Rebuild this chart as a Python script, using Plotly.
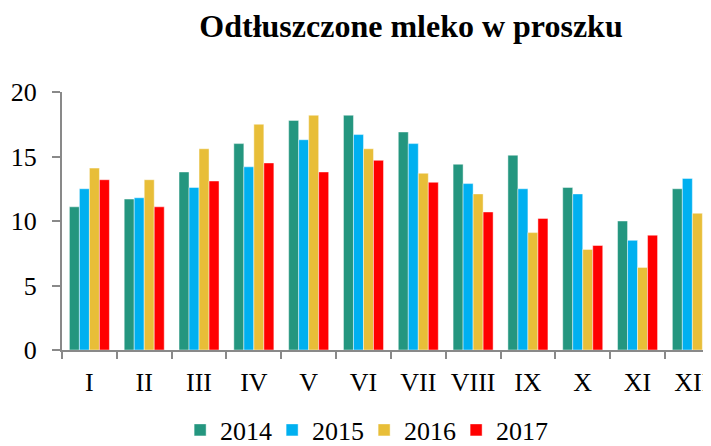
import plotly.graph_objects as go

months = ["I", "II", "III", "IV", "V", "VI", "VII", "VIII", "IX", "X", "XI", "XII"]
years = ["2014", "2015", "2016", "2017"]
v2014 = [11.1, 11.7, 13.8, 16.0, 17.8, 18.2, 16.9, 14.4, 15.1, 12.6, 10.0, 12.5]
v2015 = [12.5, 11.8, 12.6, 14.2, 16.3, 16.7, 16.0, 12.9, 12.5, 12.1, 8.5, 13.3]
v2016 = [14.1, 13.2, 15.6, 17.5, 18.2, 15.6, 13.7, 12.1, 9.1, 7.8, 6.4, 10.6]
v2017 = [13.2, 11.1, 13.1, 14.5, 13.8, 14.7, 13.0, 10.7, 10.2, 8.1, 8.9, None]
colors = ["#24967F", "#00B0F0", "#E8BE38", "#FF0000"]

series = [v2014, v2015, v2016, v2017]
FONT = "Liberation Serif"

fig = go.Figure()
for name, vals, col in zip(years, series, colors):
    fig.add_trace(go.Bar(
        x=months, y=vals, name=name,
        marker=dict(color=col, line=dict(color="rgba(255,255,255,0.6)", width=0.75)),
    ))

# page has an 8px body margin, so the figure is 703x438
fig.update_layout(
    width=703, height=438,
    margin=dict(l=54, r=0, t=84, b=96, autoexpand=False),
    paper_bgcolor="white", plot_bgcolor="white",
    barmode="group", bargap=0.27, bargroupgap=0,
    font=dict(family=FONT, size=26, color="black"),
    title=dict(text="<b>Odtłuszczone mleko w proszku</b>",
               font=dict(family=FONT, size=32, color="black"),
               x=403/703, xanchor="center", xref="container",
               y=1-18/438, yanchor="middle", yref="container"),
    showlegend=True,
    legend=dict(orientation="h", x=0.182, xanchor="left",
                y=-0.31, yanchor="middle", entrywidth=47, entrywidthmode="pixels",
                font=dict(family=FONT, size=26), bgcolor="rgba(0,0,0,0)"),
    xaxis=dict(range=[-0.5, 11.34], showline=True, linecolor="#898989", linewidth=2,
               ticks="outside", tickson="boundaries", ticklen=7, tickwidth=2,
               tickcolor="#898989", showgrid=False, ticklabelstandoff=8,
               automargin=False, tickfont=dict(family=FONT, size=26)),
    yaxis=dict(range=[0, 20], tickvals=[0, 5, 10, 15, 20], showline=True,
               linecolor="#898989", linewidth=2, ticks="outside", ticklen=8,
               tickwidth=2, tickcolor="#898989", showgrid=False, zeroline=False,
               ticklabelstandoff=10, automargin=False,
               tickfont=dict(family=FONT, size=26)),
)

fig.write_html("out.html")
